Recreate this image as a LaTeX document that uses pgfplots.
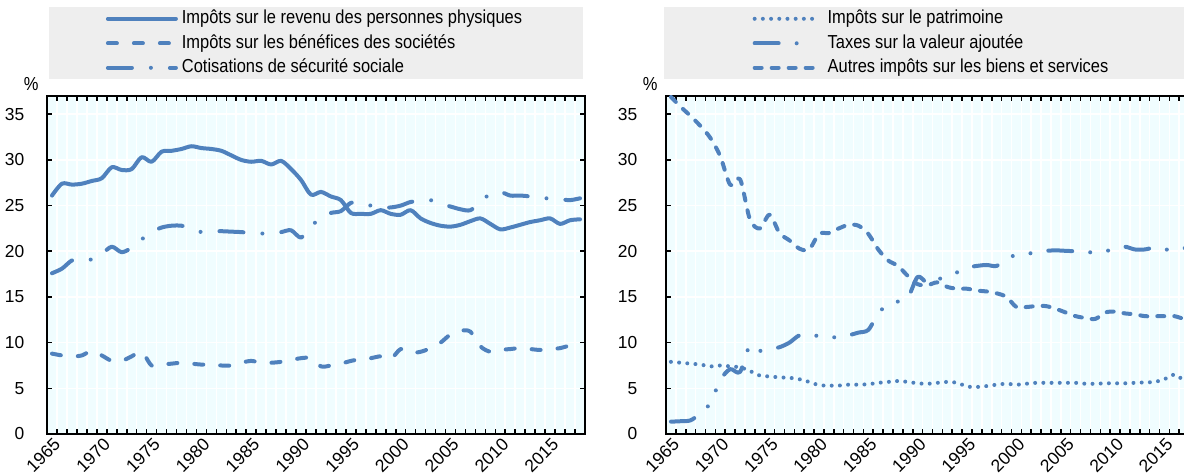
\documentclass[border=0pt]{standalone}
\usepackage{fontspec}
\setmainfont{Liberation Sans}[FakeStretch=0.875]
\newfontfamily\tickfont{Liberation Sans}
\usepackage{pgfplots}
\usepackage{pgfplotstable}
\pgfplotsset{compat=1.18}

\definecolor{oecdblue}{RGB}{79,129,189}
\definecolor{plotbg}{RGB}{240,253,255}
\definecolor{legendbg}{RGB}{238,238,238}

% left panel: personal income tax, corporate tax, social security
\pgfplotstableread{
year pit cit ssc
1965 26.1 8.8 17.6
1966 27.4 8.6 18.1
1967 27.3 8.5 19.0
1968 27.4 8.6 19.2
1969 27.7 9.1 19.1
1970 28.0 8.6 19.7
1971 29.2 8.0 20.5
1972 28.9 8.0 19.9
1973 29.0 8.5 20.4
1974 30.3 9.0 21.3
1975 29.8 7.5 22.1
1976 30.9 7.6 22.6
1977 31.0 7.7 22.8
1978 31.2 7.8 22.8
1979 31.5 7.7 22.5
1980 31.3 7.6 22.1
1981 31.2 7.6 22.2
1982 31.0 7.5 22.2
1983 30.5 7.5 22.15
1984 30.0 7.8 22.1
1985 29.8 8.0 22.0
1986 29.9 7.8 21.95
1987 29.5 7.8 21.95
1988 29.9 7.9 22.1
1989 29.0 8.1 22.3
1990 27.8 8.3 21.5
1991 26.2 8.3 22.7
1992 26.5 7.4 23.7
1993 26.0 7.5 24.2
1994 25.6 7.7 24.4
1995 24.2 8.0 25.3
1996 24.1 8.2 25.3
1997 24.1 8.3 25.0
1998 24.5 8.5 24.8
1999 24.1 8.2 24.8
2000 24.0 9.3 25.0
2001 24.5 8.9 25.4
2002 23.6 9.0 25.5
2003 23.1 9.4 25.6
2004 22.8 10.0 25.2
2005 22.7 10.9 24.9
2006 22.9 11.3 24.6
2007 23.3 11.2 24.5
2008 23.6 9.6 25.4
2009 23.0 9.0 26.3
2010 22.4 9.2 26.5
2011 22.6 9.3 26.1
2012 22.9 9.4 26.1
2013 23.2 9.3 26.0
2014 23.4 9.2 25.8
2015 23.6 9.3 25.8
2016 23.0 9.4 25.7
2017 23.4 9.7 25.6
2018 23.5 9.95 25.8
}\lefttable

% right panel: property, VAT, other taxes on goods and services
\pgfplotstableread{
year wealth vat other
1965 7.9 1.35 36.9
1966 7.8 1.4 35.8
1967 7.7 1.5 34.8
1968 7.6 2.3 33.7
1969 7.4 3.4 32.4
1970 7.5 5.9 30.4
1971 7.4 7.1 27.3
1972 7.3 6.8 27.9
1973 6.9 9.7 23.5
1974 6.4 9.1 22.5
1975 6.3 9.3 24.0
1976 6.2 9.5 22.0
1977 6.15 10.0 21.2
1978 6.0 10.8 20.3
1979 5.7 10.9 20.2
1980 5.35 10.7 21.9
1981 5.3 10.6 22.0
1982 5.3 10.6 22.5
1983 5.4 10.8 22.9
1984 5.4 11.1 22.8
1985 5.45 11.4 21.9
1986 5.6 13.2 20.2
1987 5.7 14.2 19.0
1988 5.8 14.5 18.4
1989 5.7 14.9 17.3
1990 5.55 17.2 16.4
1991 5.5 16.5 16.3
1992 5.6 16.9 16.6
1993 5.7 17.3 16.1
1994 5.6 17.7 15.9
1995 5.2 18.2 15.9
1996 5.15 18.4 15.7
1997 5.25 18.5 15.6
1998 5.4 18.4 15.4
1999 5.5 19.2 15.0
2000 5.4 19.6 13.9
2001 5.5 19.7 13.9
2002 5.6 19.9 14.0
2003 5.6 20.05 14.0
2004 5.6 20.1 13.7
2005 5.6 20.05 13.3
2006 5.6 20.0 12.9
2007 5.5 19.9 12.7
2008 5.5 19.9 12.6
2009 5.55 20.0 13.3
2010 5.55 20.3 13.4
2011 5.55 20.5 13.2
2012 5.6 20.2 13.1
2013 5.65 20.2 12.9
2014 5.7 20.4 12.9
2015 6.0 20.2 12.9
2016 6.5 20.2 12.9
2017 5.9 20.35 12.6
2018 5.9 20.4 12.5
}\righttable

\pgfplotsset{
  panel/.style={
    scale only axis,
    height=169pt,
    xmin=1964.5, xmax=2018.5,
    ymin=0, ymax=37,
    axis background/.style={fill=plotbg},
    axis line style={line width=1pt, black},
    tick align=inside,
    major tick length=0pt,
    minor tick length=2.5pt,
    tick style={black, line width=0.8pt},
    xtick={1965,1970,...,2015},
    minor xtick={1964.5,1965.5,...,2018.5},
    ytick={0,5,...,35},
    minor ytick={0,5,...,35},
    xminorgrids, ymajorgrids,
    minor grid style={white, line width=0.8pt},
    major grid style={white, line width=0.8pt},
    yticklabel style={font=\fontsize{8.7}{10}\tickfont},
    xticklabel style={font=\fontsize{8.8}{10}\tickfont,
      rotate=45, anchor=north east, inner sep=0.5pt, yshift=-0.5pt},
    /pgf/number format/1000 sep={},
    /pgf/number format/assume math mode=true,
    ylabel={\%},
    every axis y label/.style={at={(rel axis cs:0,1)}, anchor=south east,
      inner sep=0pt, xshift=-4pt, yshift=2.5pt},
    legend style={at={(0.5,1)}, anchor=south, yshift=8.2pt, fill=legendbg, draw=none,
      row sep=3.25pt, inner ysep=1.2pt,
      nodes={inner ysep=0pt, text height=7pt, text depth=2pt}},
    legend cell align=left,
    every axis plot/.append style={oecdblue, line width=2pt, smooth,
      line cap=round, line join=round},
  },
  pit/.style={solid},
  cit/.style={dash pattern=on 4.5pt off 8.5pt},
  ssc/.style={dash pattern=on 12pt off 9.5pt on 0pt off 9.5pt},
  wealth/.style={dash pattern=on 0pt off 4.1pt},
  vat/.style={dash pattern=on 12pt off 9pt on 0pt off 9pt on 0pt off 9pt},
  other/.style={dash pattern=on 3.5pt off 5pt},
}

\begin{document}
\fontsize{9.4}{11}\selectfont
\begin{tikzpicture}
\useasboundingbox (0,0) rectangle (592pt,238pt);
\clip (0,0) rectangle (592pt,238pt);

\begin{axis}[panel, at={(23.5pt,21pt)}, width=269pt,
  yticklabel style={xshift=-8pt},
  legend style={inner xsep=28.5pt},
  legend image code/.code={\draw[#1] (0pt,0pt) -- (34pt,0pt);}]
  \addplot[pit] table[x=year, y=pit] {\lefttable};
  \addplot[cit] table[x=year, y=cit] {\lefttable};
  \addplot[ssc] table[x=year, y=ssc] {\lefttable};
  \legend{Impôts sur le revenu des personnes physiques,
          Impôts sur les bénéfices des sociétés,
          Cotisations de sécurité sociale}
\end{axis}

\begin{axis}[panel, at={(333pt,21pt)}, width=266.5pt,
  yticklabel style={xshift=-11pt},
  legend style={inner xsep=44.5pt, column sep=4.5pt},
  legend image code/.code={\draw[#1] (0pt,0pt) -- (29pt,0pt);}]
  \addplot[wealth] table[x=year, y=wealth] {\righttable};
  \addplot[vat] table[x=year, y=vat] {\righttable};
  \addplot[other] table[x=year, y=other] {\righttable};
  \legend{Impôts sur le patrimoine,
          Taxes sur la valeur ajoutée,
          Autres impôts sur les biens et services}
\end{axis}
\end{tikzpicture}
\end{document}
